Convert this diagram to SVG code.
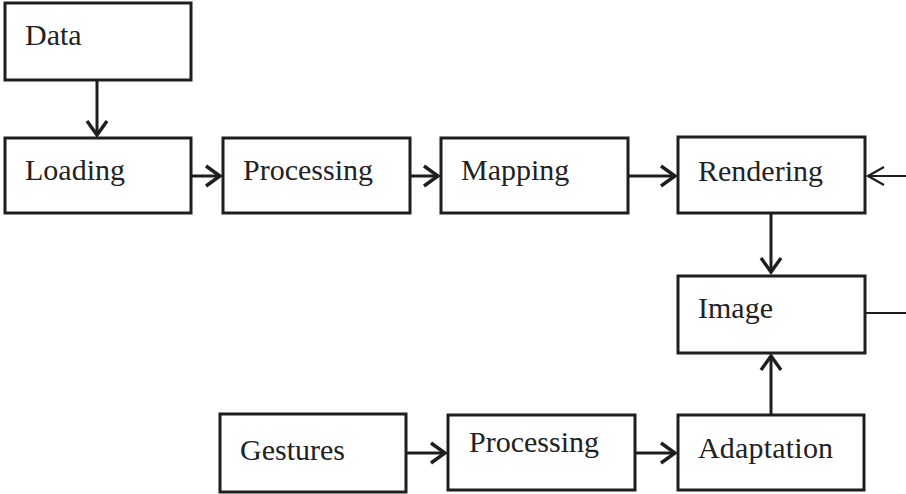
<svg xmlns="http://www.w3.org/2000/svg" width="906" height="494" viewBox="0 0 906 494">
<style>
.box{fill:#fff;stroke:#1e1e1e;stroke-width:3}
.lbl{font-family:"Liberation Serif","Times New Roman",serif;font-size:30px;fill:#222}
.c{fill:none;stroke:#1e1e1e;stroke-width:3}
.t{fill:none;stroke:#1e1e1e;stroke-width:2}
</style>
<defs>
<marker id="ah" markerUnits="userSpaceOnUse" viewBox="-20 -12 24 24" markerWidth="24" markerHeight="24" refX="0" refY="0" orient="auto">
<path d="M-14,-10 L0,0 L-14,10" fill="none" stroke="#1e1e1e" stroke-width="3.4"/>
</marker>
<marker id="aht" markerUnits="userSpaceOnUse" viewBox="-20 -12 24 24" markerWidth="24" markerHeight="24" refX="0" refY="0" orient="auto">
<path d="M-16,-9 L0,0 L-16,9" fill="none" stroke="#1e1e1e" stroke-width="2.2"/>
</marker>
</defs>
<rect width="906" height="494" fill="#fff"/>
<g id="connectors">
<line class="c" x1="97" y1="80" x2="97" y2="135" marker-end="url(#ah)"/>
<line class="c" x1="191" y1="176" x2="220" y2="176" marker-end="url(#ah)"/>
<line class="c" x1="410" y1="176" x2="438" y2="176" marker-end="url(#ah)"/>
<line class="c" x1="628" y1="176" x2="675" y2="176" marker-end="url(#ah)"/>
<line class="c" x1="771" y1="213" x2="771" y2="272" marker-end="url(#ah)"/>
<line class="c" x1="771" y1="414" x2="771" y2="356" marker-end="url(#ah)"/>
<line class="c" x1="406" y1="453" x2="445" y2="453" marker-end="url(#ah)"/>
<line class="c" x1="635" y1="453" x2="675" y2="453" marker-end="url(#ah)"/>
<line class="t" x1="906" y1="176" x2="868" y2="176" marker-end="url(#aht)"/>
<line class="t" x1="865" y1="313" x2="906" y2="313"/>
</g>
<g id="data"><rect class="box" x="5" y="3" width="186" height="77"/><text class="lbl" x="25" y="45">Data</text></g>
<g id="loading"><rect class="box" x="5" y="138" width="186" height="75"/><text class="lbl" x="25" y="180">Loading</text></g>
<g id="processing1"><rect class="box" x="223" y="138" width="187" height="75"/><text class="lbl" x="243" y="180">Processing</text></g>
<g id="mapping"><rect class="box" x="441" y="138" width="187" height="75"/><text class="lbl" x="461" y="180">Mapping</text></g>
<g id="rendering"><rect class="box" x="678" y="137" width="187" height="76"/><text class="lbl" x="698" y="181">Rendering</text></g>
<g id="image"><rect class="box" x="678" y="276" width="187" height="77"/><text class="lbl" x="698" y="318">Image</text></g>
<g id="gestures"><rect class="box" x="220" y="414" width="186" height="78"/><text class="lbl" x="240" y="460">Gestures</text></g>
<g id="processing2"><rect class="box" x="448" y="415" width="187" height="75"/><text class="lbl" x="469" y="452">Processing</text></g>
<g id="adaptation"><rect class="box" x="678" y="415" width="186" height="75"/><text class="lbl" x="698" y="458" letter-spacing="0.2">Adaptation</text></g>
</svg>
